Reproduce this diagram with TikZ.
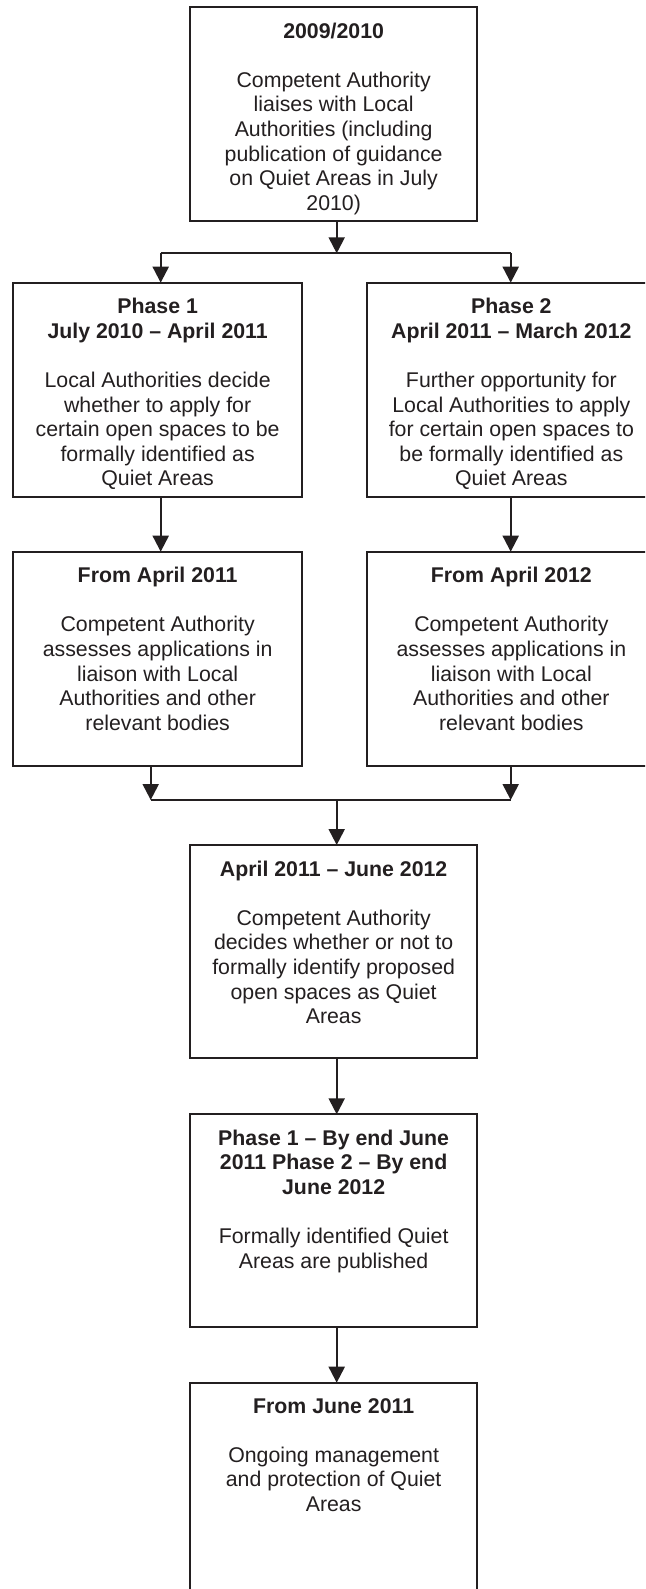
\documentclass[tikz,border=0pt]{standalone}
\usepackage{fontspec}
\setmainfont{Liberation Sans}
\usetikzlibrary{arrows.meta}
\definecolor{ink}{HTML}{231F20}
\begin{document}
\begin{tikzpicture}[x=1pt,y=-1pt,
  box/.style={draw=ink, line width=1.8pt, rectangle, inner sep=0pt, outer sep=0pt, anchor=north west},
  txt/.style={anchor=north, inner sep=0pt, align=center, text=ink, font=\fontsize{21.3}{24.6}\selectfont},
  conn/.style={draw=ink, line width=2.1pt},
  arr/.style={draw=ink, line width=2.1pt, -{Triangle[width=16pt,length=16pt]}}]
\clip (0,0) rectangle (645,1589);
\useasboundingbox (0,0) rectangle (645,1589);
\fill[white] (0,0) rectangle (645,1589);

% boxes
\node[box, minimum width=287.3pt, minimum height=213.7pt] (top) at (190,7) {};
\node[box, minimum width=288.7pt, minimum height=214pt] (p1) at (13.3,282.7) {};
\node[box, minimum width=288.7pt, minimum height=214pt] (p2) at (367,282.7) {};
\node[box, minimum width=288.7pt, minimum height=214pt] (a1) at (13.3,551.7) {};
\node[box, minimum width=288.7pt, minimum height=214pt] (a2) at (367,551.7) {};
\node[box, minimum width=287.3pt, minimum height=213.3pt] (c1) at (190,845) {};
\node[box, minimum width=287.3pt, minimum height=212.4pt] (c2) at (190,1114.3) {};
\node[box, minimum width=287.3pt, minimum height=230pt] (c3) at (190,1382.7) {};

% texts
\node[txt] (topt) at ([yshift=-15.4pt]top.north) {\textbf{2009/2010}\\[24.6pt]
Competent Authority\\ liaises with Local\\ Authorities (including\\ publication of guidance\\ on Quiet Areas in July\\ 2010)};
\node[txt] (p1t) at ([yshift=-15.4pt]p1.north) {\textbf{Phase 1}\\ \textbf{July 2010 – April 2011}\\[24.6pt]
Local Authorities decide\\ whether to apply for\\ certain open spaces to be\\ formally identified as\\ Quiet Areas};
\node[txt] (p2t) at ([yshift=-15.4pt]p2.north) {\textbf{Phase 2}\\ \textbf{April 2011 – March 2012}\\[24.6pt]
Further opportunity for\\ Local Authorities to apply\\ for certain open spaces to\\ be formally identified as\\ Quiet Areas};
\node[txt] (a1t) at ([yshift=-15.4pt]a1.north) {\textbf{From April 2011}\\[24.6pt]
Competent Authority\\ assesses applications in\\ liaison with Local\\ Authorities and other\\ relevant bodies};
\node[txt] (a2t) at ([yshift=-15.4pt]a2.north) {\textbf{From April 2012}\\[24.6pt]
Competent Authority\\ assesses applications in\\ liaison with Local\\ Authorities and other\\ relevant bodies};
\node[txt] (c1t) at ([yshift=-15.4pt]c1.north) {\textbf{April 2011 – June 2012}\\[24.6pt]
Competent Authority\\ decides whether or not to\\ formally identify proposed\\ open spaces as Quiet\\ Areas};
\node[txt] (c2t) at ([yshift=-15.4pt]c2.north) {\textbf{Phase 1 – By end June}\\ \textbf{2011 Phase 2 – By end}\\ \textbf{June 2012}\\[24.6pt]
Formally identified Quiet\\ Areas are published};
\node[txt] (c3t) at ([yshift=-15.4pt]c3.north) {\textbf{From June 2011}\\[24.6pt]
Ongoing management\\ and protection of Quiet\\ Areas};

% junction coordinates
\coordinate (jt) at (336.7,253.3);
\coordinate (jl) at (160.7,253.3);
\coordinate (jr) at (510.7,253.3);
\coordinate (ml) at (150.7,800);
\coordinate (mr) at (510.7,800);
\coordinate (mc) at (336.7,800);

% connectors
\draw[arr] (top.south -| jt) -- (jt);
\draw[conn] (jl) -- (jr);
\draw[arr] (jl) -- (jl |- p1.north);
\draw[arr] (jr) -- (jr |- p2.north);
\draw[arr] (p1.south -| jl) -- (jl |- a1.north);
\draw[arr] (p2.south -| jr) -- (jr |- a2.north);
\draw[arr] (a1.south -| ml) -- (ml);
\draw[arr] (a2.south -| mr) -- (mr);
\draw[conn] (ml) -- (mr);
\draw[arr] (mc) -- (mc |- c1.north);
\draw[arr] (c1.south -| mc) -- (mc |- c2.north);
\draw[arr] (c2.south -| mc) -- (mc |- c3.north);
\end{tikzpicture}
\end{document}
